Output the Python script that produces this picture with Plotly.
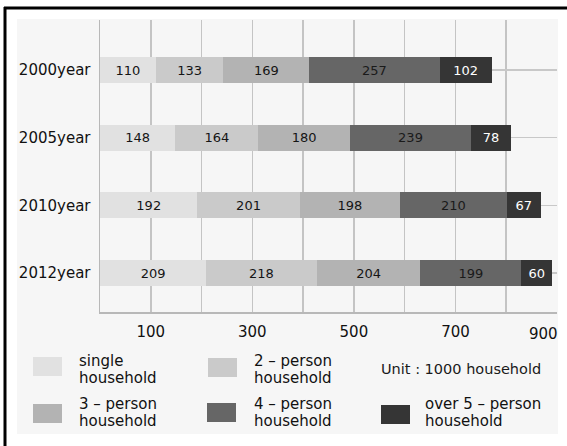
import plotly.graph_objects as go

years = ["2000year", "2005year", "2010year", "2012year"]
series_names = ["single household", "2 – person household", "3 – person household",
                "4 – person household", "over 5 – person household"]
single = [110, 148, 192, 209]
two_person = [133, 164, 201, 218]
three_person = [169, 180, 198, 204]
four_person = [257, 239, 210, 199]
five_plus = [102, 78, 67, 60]
x_tickvals = [100, 300, 500, 700]
x_ticktext = ["100", "300", "500", "700"]
x_last_tick = 900
unit_text = "Unit : 1000 household"

series = [single, two_person, three_person, four_person, five_plus]
colors = ["#e1e1e1", "#cacaca", "#b3b3b3", "#666666", "#353535"]
text_colors = ["#151515", "#151515", "#151515", "#1a1a1a", "#ffffff"]

W, H = 567, 446
L, R, T, B = 100, 10, 20, 134
PW, PH = W - L - R, H - T - B


def px(x):
    return (x - L) / PW


def py(y):
    return (H - B - y) / PH


fig = go.Figure()
for name, vals, c, tc in zip(series_names, series, colors, text_colors):
    fig.add_trace(go.Bar(
        y=years, x=vals, name=name, orientation="h",
        marker=dict(color=c, line=dict(width=0)),
        width=0.385,
        text=vals, texttemplate="%{x}", textposition="inside",
        insidetextanchor="middle", constraintext="none",
        textfont=dict(family="DejaVu Sans", size=13, color=tc),
        showlegend=False,
    ))

shapes = []
# outer panel
shapes.append(dict(type="rect", xref="paper", yref="paper",
                   x0=px(17), x1=px(558), y0=py(434), y1=py(19),
                   fillcolor="#f6f6f6", line=dict(width=0), layer="below"))
# black frame (left and top)
shapes.append(dict(type="line", xref="paper", yref="paper",
                   x0=px(5), x1=px(5), y0=py(7), y1=py(450),
                   line=dict(color="#000000", width=3)))
shapes.append(dict(type="line", xref="paper", yref="paper",
                   x0=px(4), x1=px(570), y0=py(8), y1=py(8),
                   line=dict(color="#000000", width=3)))

annotations = []
# last x tick label, kept inside the page like in the original
annotations.append(dict(xref="x", yref="paper", x=x_last_tick, y=py(334),
                        xanchor="right", yanchor="middle", xshift=3, showarrow=False,
                        text=str(x_last_tick),
                        font=dict(family="DejaVu Sans", size=15, color="#111111")))
# legend: (swatch x, swatch y-top, text x, line1 y, line2 y)
legend_pos = [
    (33, 357, 77, 361, 378),
    (208, 358, 252, 361, 378),
    (33, 404, 77, 404, 421),
    (207, 403, 252, 404, 421),
    (381, 405, 423, 404, 421),
]
for name, c, (sx, sy, tx, y1, y2) in zip(series_names, colors, legend_pos):
    shapes.append(dict(type="rect", xref="paper", yref="paper",
                       x0=px(sx), x1=px(sx + 29), y0=py(sy + 19), y1=py(sy),
                       fillcolor=c, line=dict(width=0)))
    first, second = name.rsplit(" ", 1)
    for txt, yy in ((first, y1), (second, y2)):
        annotations.append(dict(xref="paper", yref="paper", x=px(tx), y=py(yy),
                                xanchor="left", yanchor="middle", showarrow=False,
                                text=txt,
                                font=dict(family="DejaVu Sans", size=15, color="#111111")))
annotations.append(dict(xref="paper", yref="paper", x=px(379), y=py(369),
                        xanchor="left", yanchor="middle", showarrow=False,
                        text=unit_text,
                        font=dict(family="DejaVu Sans", size=14.5, color="#1a1a1a")))

fig.update_layout(
    width=W, height=H,
    margin=dict(l=L, r=R, t=T, b=B, pad=0, autoexpand=False),
    barmode="stack",
    paper_bgcolor="#ffffff",
    plot_bgcolor="#fdfdfd",
    showlegend=False,
    bargap=0.6,
    shapes=shapes,
    annotations=annotations,
    font=dict(family="DejaVu Sans", size=15, color="#111111"),
    xaxis=dict(
        range=[0, 900],
        tickmode="array", tickvals=x_tickvals, ticktext=x_ticktext,
        showgrid=True, gridcolor="#c4c4c4", gridwidth=1.5,
        minor=dict(dtick=100, tick0=0, showgrid=True, gridcolor="#c4c4c4", gridwidth=1.5),
        zeroline=False,
        showline=True, linecolor="#b8b8b8", linewidth=1.5, mirror=False,
        ticks="", ticklabelstandoff=5,
        tickfont=dict(family="DejaVu Sans", size=15, color="#111111"),
        fixedrange=True, automargin=False,
    ),
    yaxis=dict(
        type="category",
        categoryorder="array", categoryarray=years,
        range=[3.576, -0.74],
        showgrid=True, gridcolor="#c8c8c8", gridwidth=1.5,
        showline=True, linecolor="#b8b8b8", linewidth=1.5,
        ticks="", ticklabelstandoff=5,
        tickfont=dict(family="DejaVu Sans", size=15, color="#111111"),
        fixedrange=True, automargin=False,
    ),
)

fig.write_html("out.html", config={"displayModeBar": False, "staticPlot": True},
               post_script="document.body.style.margin='0';document.body.style.overflow='hidden';")
